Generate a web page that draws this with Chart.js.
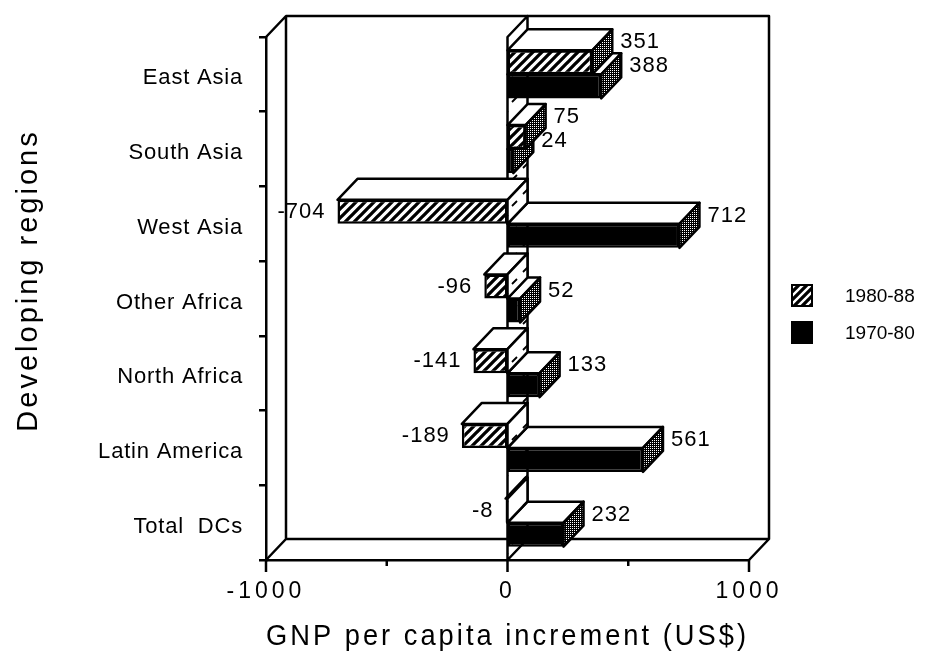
<!DOCTYPE html>
<html>
<head>
<meta charset="utf-8">
<title>GNP per capita increment by developing region</title>
<style>
  html, body { margin: 0; padding: 0; background: #fff; }
  canvas { display: block; }
</style>
<script src="https://cdn.jsdelivr.net/npm/chart.js@4.4.1/dist/chart.umd.min.js"></script>
</head>
<body>
<canvas id="c" width="940" height="661"></canvas>
<script>
// ---- data -------------------------------------------------------------
const regions = ['East Asia', 'South Asia', 'West Asia', 'Other Africa',
                 'North Africa', 'Latin America', 'Total  DCs'];
const series1980s = [351, 75, -704, -96, -141, -189, -8];   // 1980-88
const series1970s = [388, 24, 712, 52, 133, 561, 232];      // 1970-80
const seriesNames = ['1980-88', '1970-80'];
const xLimits = [-1000, 1000];
const xLabelledTicks = [-1000, 0, 1000];

// ---- fill patterns ----------------------------------------------------
const mainCtx = document.getElementById('c').getContext('2d');
function makePattern(w, h, paint) {
  const c = document.createElement('canvas');
  c.width = w; c.height = h;
  const g = c.getContext('2d');
  paint(g, w, h);
  return mainCtx.createPattern(c, 'repeat');
}
function stripes(bg, fg, lw) {
  return (g, w, h) => {
    g.fillStyle = bg; g.fillRect(0, 0, w, h);
    g.strokeStyle = fg; g.lineWidth = lw;
    g.beginPath();
    for (const o of [-w, 0, w]) { g.moveTo(o - 2, h + 2); g.lineTo(o + w + 2, -2); }
    g.stroke();
  };
}
const hatch = makePattern(9, 9, stripes('#fff', '#000', 3.3));
const hatchInverse = makePattern(8, 8, stripes('#000', '#fff', 2.4));
const stipple = makePattern(2, 2, g => {
  g.fillStyle = '#000'; g.fillRect(0, 0, 2, 2);
  g.fillStyle = '#fff'; g.fillRect(0, 0, 1, 1);
});
const dashes = makePattern(20, 26, g => {
  g.fillStyle = '#fff'; g.fillRect(0, 0, 20, 26);
  g.strokeStyle = '#000'; g.lineWidth = 1.8;
  g.beginPath();
  g.moveTo(3, 12); g.lineTo(8, 7);
  g.moveTo(12, 24); g.lineTo(17, 19);
  g.stroke();
});

// ---- 3D box drawing ---------------------------------------------------
const DEPTH = { dx: 20, dy: -21 };
const LINE = 2.5;

function poly(ctx, pts, fill) {
  ctx.beginPath();
  ctx.moveTo(pts[0][0], pts[0][1]);
  for (let i = 1; i < pts.length; i++) ctx.lineTo(pts[i][0], pts[i][1]);
  ctx.closePath();
  if (fill) { ctx.fillStyle = fill; ctx.fill(); }
  ctx.stroke();
}

const box3d = {
  id: 'box3d',
  beforeDraw(chart) {
    // per-scale letter spacing for the axis texts
    const spacing = { x: { labels: '4px', title: '3.2px', shift: 0 },
                      y: { labels: '0.8px', title: '3px', shift: -18 } };
    for (const [id, cfg] of Object.entries(spacing)) {
      const s = chart.scales[id];
      if (!s || s.__spaced) continue;
      const drawLabels = s.drawLabels, drawTitle = s.drawTitle;
      s.drawLabels = function (area) {
        const c = this.ctx; c.save(); c.letterSpacing = cfg.labels;
        drawLabels.call(this, area); c.restore();
      };
      s.drawTitle = function () {
        const c = this.ctx; c.save(); c.letterSpacing = cfg.title;
        c.translate(0, cfg.shift); drawTitle.call(this); c.restore();
      };
      s.__spaced = true;
    }
  },
  beforeDatasetsDraw(chart) {
    const { ctx, chartArea: a, scales: { x } } = chart;
    ctx.save();
    ctx.lineWidth = LINE; ctx.strokeStyle = '#000'; ctx.lineJoin = 'round';

    // back wall and floor
    const bl = a.left + DEPTH.dx, bt = a.top + DEPTH.dy;
    const br = a.right + DEPTH.dx, bb = a.bottom + DEPTH.dy;
    ctx.beginPath();
    ctx.moveTo(a.left, a.top); ctx.lineTo(bl, bt); ctx.lineTo(br, bt);
    ctx.lineTo(br, bb); ctx.lineTo(a.right, a.bottom);
    ctx.moveTo(bl, bt); ctx.lineTo(bl, bb); ctx.lineTo(br, bb);
    ctx.moveTo(a.left, a.bottom); ctx.lineTo(bl, bb);
    ctx.stroke();

    // x tick marks below the floor
    for (let v = xLimits[0]; v <= xLimits[1]; v += 500) {
      const px = x.getPixelForValue(v);
      const len = xLabelledTicks.includes(v) ? 12 : 6;
      ctx.beginPath(); ctx.moveTo(px, a.bottom); ctx.lineTo(px, a.bottom + len); ctx.stroke();
    }

    // zero plane
    const z = x.getPixelForValue(0);
    poly(ctx, [[z, a.bottom], [z + DEPTH.dx, bb], [z + DEPTH.dx, bt], [z, a.top]], dashes);

    // top and end faces, drawn from the bottom bar upwards
    const n = chart.data.labels.length;
    const nd = chart.data.datasets.length;
    for (let i = n - 1; i >= 0; i--) {
      for (let d = nd - 1; d >= 0; d--) {
        const bar = chart.getDatasetMeta(d).data[i];
        const p = bar.getProps(['x', 'y', 'base', 'height'], true);
        const left = Math.min(p.x, p.base), right = Math.max(p.x, p.base);
        const top = p.y - p.height / 2, bottom = p.y + p.height / 2;
        poly(ctx, [[left, top], [left + DEPTH.dx, top + DEPTH.dy],
                   [right + DEPTH.dx, top + DEPTH.dy], [right, top]], '#fff');
        const v = chart.data.datasets[d].data[i];
        poly(ctx, [[right, top], [right + DEPTH.dx, top + DEPTH.dy],
                   [right + DEPTH.dx, bottom + DEPTH.dy], [right, bottom]],
             v < 0 ? dashes : stipple);
      }
    }
    ctx.restore();
  },
  afterDatasetsDraw(chart) {
    const ctx = chart.ctx;
    ctx.save();
    ctx.font = '22px "Liberation Sans", Arial, sans-serif';
    ctx.fillStyle = '#000';
    ctx.textBaseline = 'middle';
    ctx.letterSpacing = '1px';
    chart.data.datasets.forEach((ds, d) => {
      chart.getDatasetMeta(d).data.forEach((bar, i) => {
        const p = bar.getProps(['x', 'y', 'base'], true);
        const v = ds.data[i];
        if (v >= 0) {
          ctx.textAlign = 'left';
          ctx.fillText(String(v), p.x + DEPTH.dx + 8, p.y + DEPTH.dy + 1);
        } else {
          ctx.textAlign = 'right';
          ctx.fillText(String(v), p.x - 12, p.y);
        }
      });
    });
    ctx.restore();
  },
  afterDraw(chart) {
    // legend
    const ctx = chart.ctx;
    const fills = [hatchInverse, '#000'];
    const boxX = 792, boxY = [285, 322], boxW = 20, boxH = 21;
    ctx.save();
    ctx.font = '19px "Liberation Sans", Arial, sans-serif';
    ctx.textBaseline = 'middle';
    ctx.textAlign = 'left';
    ctx.lineWidth = 2;
    ctx.strokeStyle = '#000';
    chart.data.datasets.forEach((ds, d) => {
      ctx.fillStyle = fills[d];
      ctx.fillRect(boxX, boxY[d], boxW, boxH);
      ctx.strokeRect(boxX, boxY[d], boxW, boxH);
      ctx.fillStyle = '#000';
      ctx.fillText(ds.label, 845, boxY[d] + boxH / 2 + 1);
    });
    ctx.restore();
  }
};

// ---- chart ------------------------------------------------------------
const FONT = '"Liberation Sans", Arial, Helvetica, sans-serif';

new Chart(document.getElementById('c'), {
  type: 'bar',
  data: {
    labels: regions,
    datasets: [
      { label: seriesNames[0], data: series1980s, backgroundColor: hatch },
      { label: seriesNames[1], data: series1970s, backgroundColor: '#000' }
    ]
  },
  options: {
    indexAxis: 'y',
    responsive: false,
    animation: false,
    layout: { padding: { left: 0, right: 191, top: 37, bottom: 0 } },
    datasets: {
      bar: {
        categoryPercentage: 0.643,
        barPercentage: 1,
        borderColor: '#000',
        borderWidth: 2.5,
        borderSkipped: false
      }
    },
    plugins: {
      legend: { display: false },
      tooltip: { enabled: false }
    },
    scales: {
      x: {
        type: 'linear',
        min: xLimits[0],
        max: xLimits[1],
        afterFit: s => { s.height = 101; },
        grid: { display: false, drawTicks: false },
        border: { display: true, color: '#000', width: LINE },
        ticks: {
          stepSize: 500,
          autoSkip: false,
          maxRotation: 0,
          padding: 18,
          color: '#000',
          font: { family: FONT, size: 23 },
          callback: v => (xLabelledTicks.includes(v) ? String(v) : '')
        },
        title: {
          display: true,
          text: 'GNP per capita increment (US$)',
          color: '#000',
          font: { family: FONT, size: 29 },
          padding: { top: 0, bottom: 7 }
        }
      },
      y: {
        type: 'category',
        offset: true,
        afterFit: s => { s.width = 266; },
        grid: {
          display: true,
          drawOnChartArea: false,
          drawTicks: true,
          tickLength: 7,
          offset: true,
          color: '#000',
          lineWidth: LINE
        },
        border: { display: true, color: '#000', width: LINE },
        ticks: {
          color: '#000',
          padding: 16,
          labelOffset: 4,
          font: { family: FONT, size: 22 }
        },
        title: {
          display: true,
          text: 'Developing regions',
          color: '#000',
          font: { family: FONT, size: 29 },
          padding: { top: 12, bottom: 0 }
        }
      }
    }
  },
  plugins: [box3d]
});
</script>
</body>
</html>
